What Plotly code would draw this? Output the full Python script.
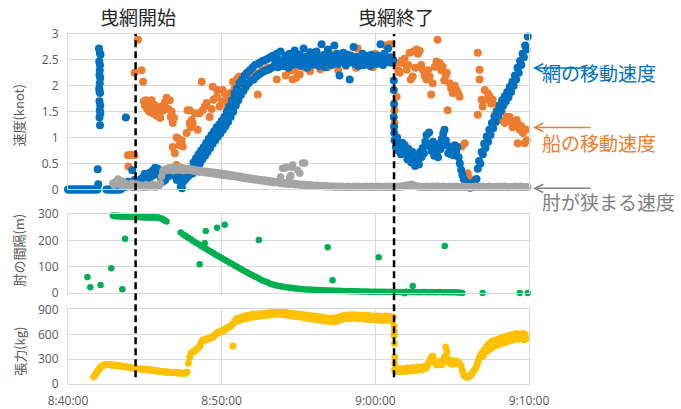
import pandas as pd
import plotly.graph_objects as go

# ---------------------------------------------------------------------------
# Data (times are seconds after 8:40:00)
# ---------------------------------------------------------------------------
BASE = pd.Timestamp("2020-01-01 08:40:00")

# Net speed (knot): idle zeros before the start of towing
net_idle_early = [0.0] * 24            # 8:40:00 - 8:41:55, every 5 s
net_idle_late = [0.0] * 10             # 8:42:30 - 8:43:15, every 5 s

# Net speed, every 5 s from 8:43:20
net_speed = [
    0.02, 0.00, 0.05, 0.10, 0.04, 0.12, 0.06, 0.15,
    0.08, 0.14, 0.05, 0.12, 0.18, 0.10, 0.08, 0.16, 0.12, 0.20, 0.15, 0.25,
    0.30, 0.22, 0.28, 0.18, 0.32, 0.25, 0.36, 0.28, 0.42, 0.34, 0.40, 0.30,
    0.26, 0.20, 0.15, 0.24, 0.18, 0.28, 0.34, 0.26, 0.38, 0.30, 0.36, 0.28,
    0.25, 0.18, 0.30, 0.22, 0.05, 0.02, 0.15, 0.25, 0.20, 0.32, 0.26, 0.38,
    0.40, 0.30, 0.52, 0.38, 0.60, 0.45, 0.68, 0.50, 0.75, 0.58, 0.82, 0.65,
    0.90, 0.72, 0.98, 0.80, 1.05, 0.88, 1.12, 0.95, 1.20, 1.02, 1.25, 1.08,
    1.32, 1.15, 1.40, 1.22, 1.50, 1.30, 1.60, 1.40, 1.72, 1.50, 1.85, 1.62,
    1.95, 1.72, 2.05, 1.82, 2.12, 1.90, 2.20, 1.98, 2.25, 2.05, 2.30, 2.10,
    2.35, 2.12, 2.40, 2.18, 2.42, 2.22, 2.45, 2.25, 2.48, 2.28, 2.50, 2.30,
    2.52, 2.32, 2.55, 2.35, 2.58, 2.38, 2.45, 2.62, 2.36, 2.50, 2.66, 2.40,
    2.50, 2.38, 2.58, 2.44, 2.35, 2.62, 2.47, 2.40, 2.55, 2.68, 2.42, 2.50,
    2.45, 2.60, 2.38, 2.52, 2.72, 2.44, 2.56, 2.35, 2.48, 2.65, 2.40, 2.58,
    2.50, 2.42, 2.66, 2.55, 2.38, 2.48, 2.80, 2.45, 2.60, 2.36, 2.52, 2.70,
    2.44, 2.58, 2.40, 2.55, 2.78, 2.48, 2.62, 2.42, 2.20, 2.55, 2.46, 2.64,
    2.50, 2.40, 2.60, 2.45, 2.12, 2.58, 2.48, 2.75, 2.42, 2.56, 2.50, 2.38,
    2.55, 2.46, 2.62, 2.40, 2.52, 2.44, 2.58, 2.48, 2.38, 2.60, 2.50, 2.45,
    2.52, 2.42, 2.58, 2.46, 2.80, 2.50, 2.40, 2.62, 2.48, 2.55, 2.72, 2.45,
    2.55, 2.45, 2.50, 0.95, 0.82, 1.00, 0.75, 0.88, 0.68, 0.90, 0.72, 0.85,
    0.70, 0.58, 0.78, 0.62, 0.52, 0.72, 0.60, 0.45, 0.66, 0.55, 0.48, 0.72,
    0.62, 0.80, 0.70, 0.92, 1.05, 0.85, 1.10, 0.82, 0.74, 0.92, 0.65, 0.80,
    0.72, 0.62, 0.88, 0.78, 0.98, 1.08, 1.15, 0.95, 0.85, 0.70, 0.82, 0.68,
    0.80, 0.66, 0.85, 0.72, 0.82, 0.62, 0.50, 0.38, 0.28, 0.20, 0.15, 0.10,
    0.06, 0.12, 0.03, 0.10, 0.05, 0.14, 0.08, 0.20, 0.40, 0.55, 0.50, 0.72,
    0.68, 0.88, 0.80, 1.02, 0.92, 1.15, 1.05, 1.28, 1.18, 1.40, 1.30, 1.50,
    1.42, 1.62, 1.52, 1.72, 1.62, 1.80, 1.70, 1.88, 1.78, 1.98, 1.88, 2.08,
    2.00, 2.20, 2.12, 2.35, 2.25, 2.48, 2.40, 2.62, 2.55, 2.78, 2.70, 2.95,
]

# Net speed, isolated readings (time s, knot)
net_extra_t = [121, 124, 122, 125, 123, 126, 124, 122, 125, 123, 124, 126, 123, 125,
               116, 118, 127, 124, 123, 126, 226, 251,
               1272, 1272, 1273, 1272, 1273, 1274]
net_extra_v = [2.72, 2.64, 2.47, 2.40, 2.21, 2.15, 2.05, 1.95, 1.86, 1.70, 1.53, 1.47, 1.39, 1.24,
               0.39, 0.10, 2.60, 2.30, 1.90, 1.62, 1.39, 0.37,
               2.10, 1.92, 1.65, 1.40, 1.21, 1.09]

# Boat speed (time s, knot)
boat_t = [
    234, 246, 260, 236, 273, 260, 287, 293,
    296, 300, 305, 309, 313, 318, 322, 326, 330, 334, 338, 342, 346, 350, 355, 360,
    364, 370, 378, 385, 392, 397, 401, 405, 409, 414,
    409, 417, 428, 424, 436, 444, 448, 424, 440,
    463, 467, 475, 475, 479, 483, 487, 495, 506, 514, 522, 526, 534, 541, 553, 561,
    565, 568, 581, 583, 592, 600, 604, 612, 620, 622, 632, 634, 643, 644, 651, 655,
    655, 659, 663, 670, 682, 698, 709, 721, 741, 748, 760, 780, 808, 815, 834, 850,
    866, 877, 890,
    885, 895, 905, 915, 925, 935, 945, 955, 965, 975, 985, 995, 1005, 1015, 1025,
    1035, 1045, 1055, 1065, 1075, 1085, 1095, 1105, 1115, 1125, 1131, 1140, 1150,
    1158, 1170, 1180, 1190, 1200, 1210, 1220, 1230, 1240, 1250, 1258, 1265,
    1275, 1275, 1283, 1283, 1290, 1295, 1302, 1307, 1314, 1322, 1328, 1334, 1338,
    1346, 1350, 1356, 1361, 1367, 1373, 1379, 1385, 1392, 1400, 1406, 1412, 1418,
    1424, 1432, 1439, 1443, 1451, 1457, 1463, 1469, 1475, 1479, 1482, 1490, 1496,
    1502, 1510, 1517, 1523, 1529, 1537, 1549, 1557, 1561, 1568, 1576,
    1600, 1607, 1607, 1600, 1615, 1619, 1627, 1635, 1640, 1647, 1652, 1658, 1666,
    1674, 1680, 1686, 1694, 1705, 1713, 1725, 1730, 1736, 1745, 1752, 1756, 1760,
    1764, 1770, 1776, 1783, 1791, 1788,
]
boat_v = [
    0.66, 0.67, 0.66, 0.44, 2.89, 2.25, 2.30, 2.08,
    1.70, 1.62, 1.72, 1.55, 1.66, 1.50, 1.60, 1.72, 1.58, 1.46, 1.63, 1.52, 1.42, 1.56, 1.48, 1.38,
    1.60, 1.52, 1.68, 1.77, 1.55, 1.72, 1.40, 1.50, 1.28, 1.38,
    0.82, 0.70, 0.99, 1.00, 0.86, 0.95, 0.83, 0.47, 0.42,
    1.09, 1.53, 1.53, 1.28, 1.20, 1.34, 1.28, 1.47, 1.15, 1.47, 2.08, 1.53, 1.60, 1.67, 1.40, 1.55,
    1.98, 1.73, 1.79, 1.92, 1.60, 1.70, 1.92, 1.85, 1.73, 1.60, 1.47, 1.86, 1.73, 2.08, 1.95, 1.79,
    1.66, 2.12, 2.15, 2.18, 2.05, 2.25, 2.20, 2.28, 1.83, 2.25, 2.31, 2.35, 2.40, 2.12, 2.38, 2.20,
    2.30, 2.12, 2.15,
    2.30, 2.45, 2.22, 2.55, 2.35, 2.48, 2.28, 2.60, 2.40, 2.52, 2.32, 2.58, 2.44, 2.36, 2.62,
    2.42, 2.50, 2.30, 2.56, 2.46, 2.38, 2.60, 2.45, 2.52, 2.35, 2.72, 2.48, 2.40,
    2.58, 2.44, 2.52, 2.36, 2.62, 2.46, 2.55, 2.40, 2.78, 2.50, 2.80, 2.45,
    1.53, 1.28, 1.79, 2.44, 2.30, 2.25, 2.48, 2.44, 2.52, 2.31, 2.40, 2.64, 2.12,
    2.18, 2.66, 2.35, 2.70, 2.62, 2.67, 2.40, 2.31, 2.20, 2.12, 2.30, 2.18, 1.83,
    2.05, 2.37, 2.47, 2.89, 2.44, 2.30, 2.37, 2.10, 2.20, 2.25, 1.53, 2.05, 1.95,
    1.86, 2.00, 1.92, 1.85, 1.79, 0.83, 0.89, 0.24, 0.31, 0.21, 0.15,
    2.64, 2.31, 2.12, 1.44, 1.73, 1.60, 1.92, 1.73, 1.85, 1.79, 1.66, 1.73, 1.44,
    1.53, 1.62, 1.34, 1.50, 1.28, 1.40, 1.40, 1.30, 1.20, 1.30, 1.34, 0.89, 1.25,
    1.15, 1.22, 1.09, 0.89, 0.95, 1.15,
]

# Speed at which the wing ends close (knot), every 5 s from 8:42:55
wing_speed = [
    0.12, 0.08, 0.15, 0.10, 0.20, 0.14, 0.08, 0.16, 0.10, 0.06, 0.12, 0.08, 0.05,
    0.10, 0.06, 0.12, 0.05, 0.08, 0.04, 0.10, 0.06, 0.05, 0.08, 0.04, 0.07,
    0.05, 0.09, 0.04, 0.06, 0.08, 0.05, 0.10, 0.06, 0.04, 0.08, 0.05, 0.07,
    0.12, 0.25, 0.35, 0.38, 0.36, 0.40, 0.37, 0.42,
    0.38, 0.41, 0.36, 0.43, 0.39, 0.40, 0.37, 0.42, 0.38, 0.40, 0.36, 0.41, 0.38, 0.39, 0.37, 0.40,
    0.38, 0.36, 0.39, 0.35, 0.37, 0.34, 0.37, 0.33, 0.36, 0.34, 0.35, 0.32,
    0.35, 0.33, 0.31, 0.34, 0.32, 0.30, 0.33, 0.31, 0.29, 0.32, 0.30, 0.28,
    0.31, 0.29, 0.27, 0.30, 0.28, 0.26, 0.29, 0.27, 0.25, 0.28, 0.26, 0.25,
    0.24, 0.26, 0.23, 0.25, 0.22, 0.24, 0.21, 0.23, 0.22, 0.20, 0.22, 0.19,
    0.21, 0.20, 0.18, 0.20, 0.19, 0.17, 0.19, 0.18, 0.16, 0.18, 0.17, 0.15,
    0.17, 0.16, 0.14, 0.16, 0.15, 0.13, 0.15, 0.14, 0.13, 0.14, 0.12, 0.13,
    0.12, 0.11, 0.13, 0.12, 0.10, 0.12,
    0.11, 0.10, 0.12, 0.09, 0.11, 0.10, 0.09, 0.10, 0.08, 0.09, 0.10, 0.08,
    0.09, 0.07, 0.08, 0.09, 0.07, 0.08, 0.07, 0.06, 0.08, 0.07, 0.06, 0.07,
    0.06, 0.07, 0.05, 0.06, 0.07, 0.05, 0.06, 0.05,
    0.06, 0.05, 0.06, 0.04, 0.05, 0.06, 0.05, 0.04, 0.06, 0.05, 0.05, 0.04,
    0.05, 0.06, 0.04, 0.05, 0.05, 0.04, 0.06, 0.05, 0.04, 0.05, 0.06, 0.05,
    0.04, 0.05, 0.05, 0.06, 0.04, 0.05, 0.04, 0.06, 0.05, 0.04, 0.05, 0.05,
    0.06, 0.04, 0.05, 0.05, 0.04, 0.06, 0.05, 0.04, 0.05, 0.06, 0.04, 0.05,
    0.05, 0.04, 0.06, 0.05, 0.04, 0.05, 0.06, 0.05, 0.07, 0.06, 0.08, 0.07,
    0.09, 0.08, 0.10, 0.09, 0.08, 0.07, 0.06, 0.05, 0.06, 0.04, 0.05, 0.05,
    0.04, 0.05, 0.06, 0.04, 0.05, 0.05, 0.04, 0.06, 0.05, 0.04, 0.05, 0.06,
    0.05, 0.04, 0.05, 0.06, 0.04, 0.05, 0.05, 0.04, 0.06, 0.05, 0.04, 0.05,
    0.05, 0.06, 0.04, 0.05, 0.04, 0.05, 0.06, 0.05, 0.04, 0.05, 0.05, 0.04,
    0.05, 0.04, 0.05, 0.05, 0.06, 0.04, 0.05, 0.04, 0.05, 0.06, 0.05, 0.04,
    0.05, 0.05, 0.04, 0.06, 0.05, 0.04, 0.05, 0.05, 0.04, 0.05, 0.06, 0.04,
    0.05, 0.04, 0.05, 0.06, 0.05, 0.04, 0.05, 0.05, 0.04, 0.05, 0.05, 0.06,
    0.04, 0.05, 0.05, 0.04, 0.06, 0.05, 0.04, 0.05, 0.05, 0.04,
]
wing_extra_t = [830, 838, 846, 854, 866, 870, 873, 877, 897, 905, 916, 924]
wing_extra_v = [0.24, 0.41, 0.41, 0.43, 0.24, 0.27, 0.43, 0.47, 0.37, 0.31, 0.51, 0.51]

# Wing-end spacing (m)
spacing_early = [  # every 5 s from 8:42:55
    294, 292, 293, 291, 293, 292, 291, 292, 290, 291, 292, 290, 291, 290, 289,
    291, 290, 289, 290, 288, 289, 290, 288, 289, 288, 287, 289, 288, 287, 288,
    286, 287, 288, 288, 287, 287, 286, 284, 283, 280, 277, 274, 272,
]
spacing_main = [  # every 10 s from 8:47:20
    230, 222, 216, 210, 204, 197, 191, 185, 179, 173, 167, 162, 156, 150, 144,
    139, 133, 128, 122, 116, 111, 105, 100, 94, 89, 83, 78, 73, 68, 63, 58, 53,
    48, 44, 40, 36, 33, 30, 28, 26, 24, 22, 21, 20, 19, 18, 17, 16, 15, 14, 14,
    13, 13, 12, 12, 11, 11, 10, 10, 10, 9, 9, 9, 8, 8, 8, 7,
    7, 7, 7, 6, 6, 6, 6, 5, 5,
    5, 5, 5, 5, 5, 4, 5, 4, 4, 4,
    4, 4, 5, 4, 4, 4, 4, 3, 4, 4,
    4, 3, 4, 3, 3, 4, 3, 3, 3, 3,
    3, 3, 2, 2, 1,
]
spacing_extra_t = [76, 87, 127, 169, 212, 223, 287, 514, 538, 582, 612, 534, 745,
                   1014, 1033, 1213, 1471, 1346, 1314, 1619, 1764, 1795]
spacing_extra_v = [61, 22, 31, 94, 15, 206, 303, 110, 236, 248, 259, 189, 201,
                   174, 49, 136, 179, 27, 0, 1, 1, 1]

# Net tension (kg), every 5 s from 8:41:40
tension = [
    88, 105, 130, 155, 175, 195, 208, 220, 228, 233, 235, 236, 233, 232, 230, 228,
    229, 224, 227, 220, 222, 215, 217, 211, 212, 206, 207, 201, 202, 196, 197, 190,
    192, 185, 187, 181, 183, 178, 180, 175, 177, 172, 174, 169, 172, 166, 168, 162,
    164, 158, 160, 154,
    154, 150, 150, 146, 147, 143, 144, 140, 142, 138, 140, 136, 138, 134, 136, 132,
    134, 131, 133, 130, 134,
    145, 250, 320, 370, 380, 395, 400, 410, 430, 445, 460, 500, 525,
    535, 528, 542, 540, 552, 548, 565, 560, 585, 598, 612, 618, 632, 630, 642, 640,
    652, 664, 676, 682, 692, 698, 716, 728, 756, 770,
    790, 765, 800, 775, 810, 785, 820, 792, 826, 800, 834, 806, 838, 810, 842, 815,
    845, 818,
    848, 820, 845, 826, 855, 828, 858, 832, 862, 835, 866, 840, 870, 842, 875, 848,
    870, 840, 868, 835, 862, 830, 858, 826, 855, 822, 850, 818, 846, 815,
    845, 812, 840, 805, 836, 800, 832, 795, 828, 790, 825, 786, 820, 780, 815, 776,
    812, 770, 806, 766, 800, 760, 796, 756, 792, 752, 795, 750, 798, 756,
    802, 765, 810, 775, 820, 785, 826, 790, 830, 795, 835, 792, 832, 796, 836, 790,
    830, 788, 834, 792, 830, 786, 828, 782, 826, 780, 824, 778, 820, 775, 818, 772,
    822, 776, 818, 770, 815, 768, 820, 774, 816, 770, 812, 766, 810,
    170, 150, 185, 160, 178, 148, 188, 162, 176, 152, 192, 168,
    182, 158, 198, 172, 186, 162, 204, 176, 192, 168, 210, 185,
    218, 195, 235, 262, 300, 328, 335, 280, 252, 228, 268, 238,
    272, 232, 262, 330, 448, 385, 298, 250, 272, 238, 282, 252,
    278, 248, 262, 238, 218, 160, 112, 95, 85, 80, 92, 100,
    118, 138, 160, 180, 215, 262, 305, 345, 372, 335, 410, 385,
    460, 400, 490, 430, 515, 450, 525, 465, 535, 475, 545, 485,
    560, 495, 570, 505, 580, 515, 590, 525, 598, 535, 605, 545,
    610, 540, 595, 550, 612, 535, 600, 545,
]
tension_extra_t = [644, 1273, 1274, 1274, 1275, 1276, 1276]
tension_extra_v = [460, 700, 635, 586, 489, 327, 250]

# Towing start / end
TOW_START = 264    # 8:44:24
TOW_END = 1273     # 9:01:13

# ---------------------------------------------------------------------------
def clock(seconds):
    return [BASE + pd.Timedelta(seconds=float(s)) for s in seconds]


def sampled(start, step, values):
    return clock([start + step * i for i in range(len(values))])


BLUE = "#0070C0"
ORANGE = "#ED7D31"
GRAY = "#A5A5A5"
GREEN = "#00B050"
YELLOW = "#FFC000"
GRID = "#D9D9D9"
TICK = "#595959"
JP = "Noto Sans CJK JP"

fig = go.Figure()


def dots(x, y, color, size, axis):
    fig.add_trace(go.Scatter(
        x=x, y=y, mode="markers", cliponaxis=False, showlegend=False,
        marker=dict(color=color, size=size, line=dict(width=0)),
        xaxis=axis[0], yaxis=axis[1], hoverinfo="skip"))


top = ("x", "y")
mid = ("x2", "y2")
bot = ("x3", "y3")

# speed panel
dots(clock(boat_t), boat_v, ORANGE, 8, top)
dots(sampled(0, 5, net_idle_early), net_idle_early, BLUE, 8, top)
dots(sampled(150, 5, net_idle_late), net_idle_late, BLUE, 8, top)
dots(sampled(200, 5, net_speed), net_speed, BLUE, 8, top)
dots(clock(net_extra_t), net_extra_v, BLUE, 8, top)
dots(sampled(175, 5, wing_speed), wing_speed, GRAY, 7.5, top)
dots(clock(wing_extra_t), wing_extra_v, GRAY, 7.5, top)

# spacing panel
dots(sampled(175, 5, spacing_early), spacing_early, GREEN, 6.5, mid)
dots(sampled(440, 10, spacing_main), spacing_main, GREEN, 6.5, mid)
dots(clock(spacing_extra_t), spacing_extra_v, GREEN, 6.5, mid)

# tension panel
dots(sampled(100, 5, tension), tension, YELLOW, 7, bot)
dots(clock(tension_extra_t), tension_extra_v, YELLOW, 7, bot)

x_start, x_end = clock([0, 1800])
common_x = dict(range=[x_start, x_end], tick0=x_start, dtick=600000,
                showgrid=True, gridcolor=GRID, gridwidth=1, zeroline=False,
                showline=True, linecolor=GRID, linewidth=1, mirror=True,
                ticks="", automargin=False)
common_y = dict(showgrid=True, gridcolor=GRID, gridwidth=1, zeroline=False,
                showline=True, linecolor=GRID, linewidth=1, mirror=True,
                ticks="", automargin=False, ticklabelstandoff=6,
                tickfont=dict(family="Open Sans", size=12, color=TICK))

fig.update_layout(
    width=681, height=409, autosize=False,
    margin=dict(l=68, r=152, t=34, b=25),
    paper_bgcolor="white", plot_bgcolor="white",
    xaxis=dict(common_x, anchor="y", showticklabels=False),
    xaxis2=dict(common_x, anchor="y2", matches="x", showticklabels=False),
    xaxis3=dict(common_x, anchor="y3", matches="x", showticklabels=True,
                tickformat="%-H:%M:%S", ticklabelstandoff=6,
                tickfont=dict(family="Open Sans", size=12, color=TICK)),
    yaxis=dict(common_y, domain=[0.556, 1.0], range=[0, 3], dtick=0.5, anchor="x"),
    yaxis2=dict(common_y, domain=[0.2596, 0.4857], range=[0, 300], dtick=100, anchor="x2"),
    yaxis3=dict(common_y, domain=[0.0, 0.213], range=[0, 900], dtick=300, anchor="x3"),
)

# towing start / end markers
t_start, t_end = clock([TOW_START, TOW_END])
for t in (t_start, t_end):
    fig.add_shape(type="line", xref="x", yref="paper", x0=t, x1=t, y0=0.019, y1=1.0,
                  line=dict(color="black", width=2.5, dash="7px,4px"), layer="above")

ann = []
for t, label in ((t_start, "曳網開始"), (t_end, "曳網終了")):
    ann.append(dict(x=t, y=1.05, xref="x", yref="paper", text=label, showarrow=False,
                    xanchor="center", yanchor="middle", xshift=2,
                    font=dict(family=JP, size=19, color="#262626")))

# axis titles
for y, label in ((0.766, "速度(knot)"), (0.383, "肘の間隔(m)"), (0.094, "張力(kg)")):
    ann.append(dict(x=-0.107, y=y, xref="paper", yref="paper", text=label, showarrow=False,
                    textangle=-90, xanchor="center", yanchor="middle",
                    font=dict(family=JP, size=13, color=TICK)))

# series labels with arrows
for y_text, y_arrow, label, color in (
        (0.890, 0.903, "網の移動速度", BLUE),
        (0.690, 0.733, "船の移動速度", ORANGE),
        (0.521, 0.559, "肘が狭まる速度", "#808080")):
    ann.append(dict(x=1.024, y=y_text, xref="paper", yref="paper", text=label,
                    showarrow=False, xanchor="left", yanchor="middle",
                    font=dict(family=JP, size=19, color=color)))
    ann.append(dict(x=1.0087, y=y_arrow, xref="paper", yref="paper", text="",
                    showarrow=True, ax=59, ay=0, arrowhead=5, arrowsize=1.1,
                    arrowwidth=1.5, arrowcolor=color))

fig.update_layout(annotations=ann)
fig.write_html("out.html")
